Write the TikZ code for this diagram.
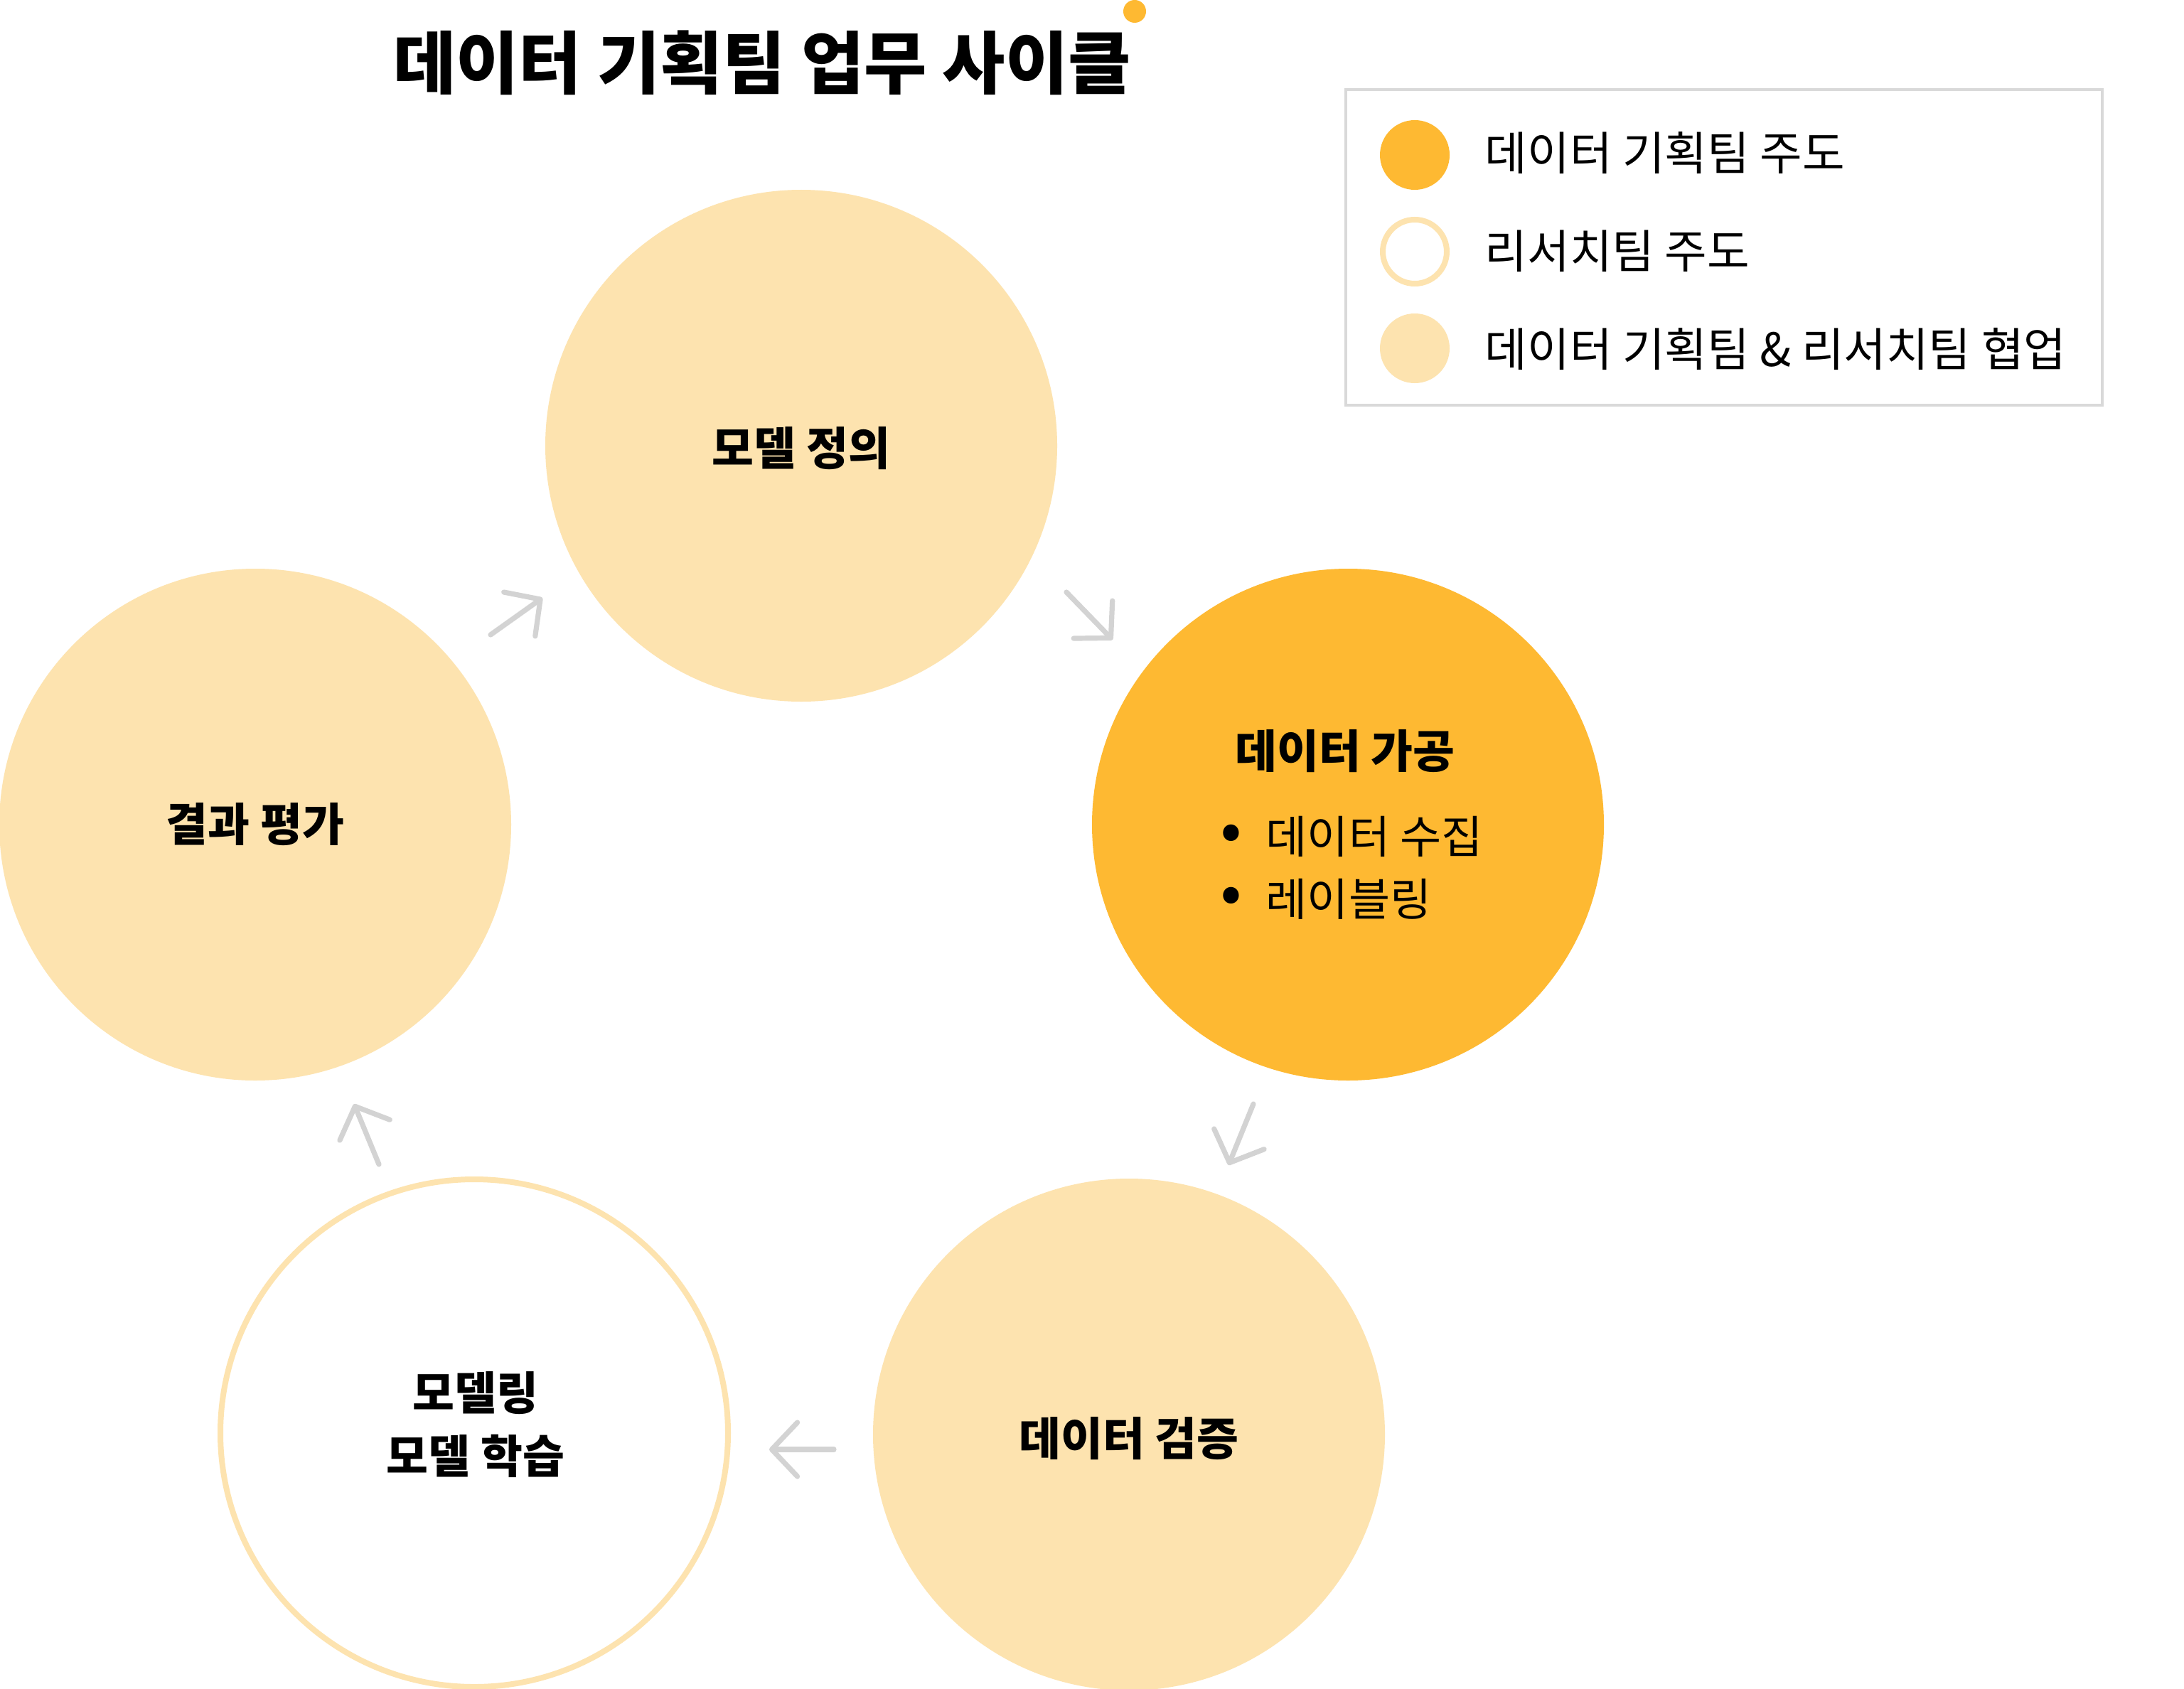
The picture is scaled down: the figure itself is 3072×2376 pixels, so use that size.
\documentclass[tikz,border=0pt]{standalone}
\usepackage{fontspec}
\setmainfont{Noto Sans CJK KR}
\usetikzlibrary{arrows.meta}
\definecolor{orangeC}{HTML}{FEB932}
\definecolor{lightC}{HTML}{FDE3AF}
\definecolor{arrowC}{HTML}{D3D3D3}
\definecolor{boxC}{HTML}{D9D9D9}
\begin{document}
\begin{tikzpicture}[x=0.25pt,y=-0.25pt,
  bigc/.style={circle, minimum size=180pt, inner sep=0pt},
  lab/.style={font=\fontsize{16}{22}\selectfont\bfseries, inner sep=0pt},
  itemtxt/.style={font=\fontsize{15.8}{22}\selectfont, inner sep=0pt, anchor=west},
  bul/.style={font=\fontsize{18}{22}\selectfont\bfseries, inner sep=0pt},
  legtxt/.style={font=\fontsize{16.2}{22}\selectfont, inner sep=0pt, anchor=west},
  legc/.style={circle, minimum size=24.5pt, inner sep=0pt},
  flow/.style={draw=arrowC, line width=1.8pt, line cap=round, line join=round,
    -{Straight Barb[length=9pt,width=19pt,round]}},
]
\fill[white] (0,0) rectangle (3072,2376);
\useasboundingbox (0,0) rectangle (3072,2376);

% title
\node[font=\fontsize{24}{28}\selectfont\bfseries, inner sep=0pt] (title) at (1072,88) {데이터 기획팀 업무 사이클};
\node[circle, fill=orangeC, minimum size=8pt, inner sep=0pt] (dot) at (1596,16) {};

% legend
\node[draw=boxC, line width=1pt, minimum width=266pt, minimum height=111pt, inner sep=0pt] (legend) at (2425,348) {};
\node[legc, fill=orangeC] (l1) at (1990,218) {};
\node[circle, draw=lightC, line width=2pt, fill=white, minimum size=22.5pt, inner sep=0pt] (l2) at (1990,354) {};
\node[legc, fill=lightC] (l3) at (1990,490) {};
\node[legtxt] (l1t) at (2088,215) {데이터 기획팀 주도};
\node[legtxt] (l2t) at (2088,353) {리서치팀 주도};
\node[legtxt] (l3t) at (2088,491) {데이터 기획팀 \& 리서치팀 협업};

% circles
\node[bigc, fill=lightC] (A) at (1127,627) {};
\node[bigc, fill=orangeC] (B) at (1896,1160) {};
\node[bigc, fill=lightC] (C) at (359,1160) {};
\node[bigc, fill=lightC] (D) at (1588,2018) {};
\node[circle, draw=lightC, line width=2pt, fill=white, minimum size=178.5pt, inner sep=0pt] (E) at (667,2016) {};

% labels
\node[lab] (At) at (1127,631) {모델 정의};
\node[lab] (Bt) at (1892,1057) {데이터 가공};
\node[bul] (Bb1) at (1732,1177) {•};
\node[itemtxt] (Bi1) at (1780,1177) {데이터 수집};
\node[bul] (Bb2) at (1732,1265) {•};
\node[itemtxt] (Bi2) at (1780,1265) {레이블링};
\node[lab] (Ct) at (359,1160) {결과 평가};
\node[lab] (Dt) at (1588,2024) {데이터 검증};
\node[lab] (Et1) at (669,1960) {모델링};
\node[lab] (Et2) at (669,2048) {모델 학습};

% arrows
\coordinate (a1s) at (690,893);   \coordinate (a1e) at (763,841);
\coordinate (a2s) at (1500,833);  \coordinate (a2e) at (1565,900);
\coordinate (a3s) at (1763,1553); \coordinate (a3e) at (1728,1639);
\coordinate (a4s) at (1173,2039); \coordinate (a4e) at (1082,2039);
\coordinate (a5s) at (533,1638);  \coordinate (a5e) at (498,1553);
\draw[flow] (a1s) -- (a1e);
\draw[flow] (a2s) -- (a2e);
\draw[flow] (a3s) -- (a3e);
\draw[flow] (a4s) -- (a4e);
\draw[flow] (a5s) -- (a5e);
\end{tikzpicture}
\end{document}
